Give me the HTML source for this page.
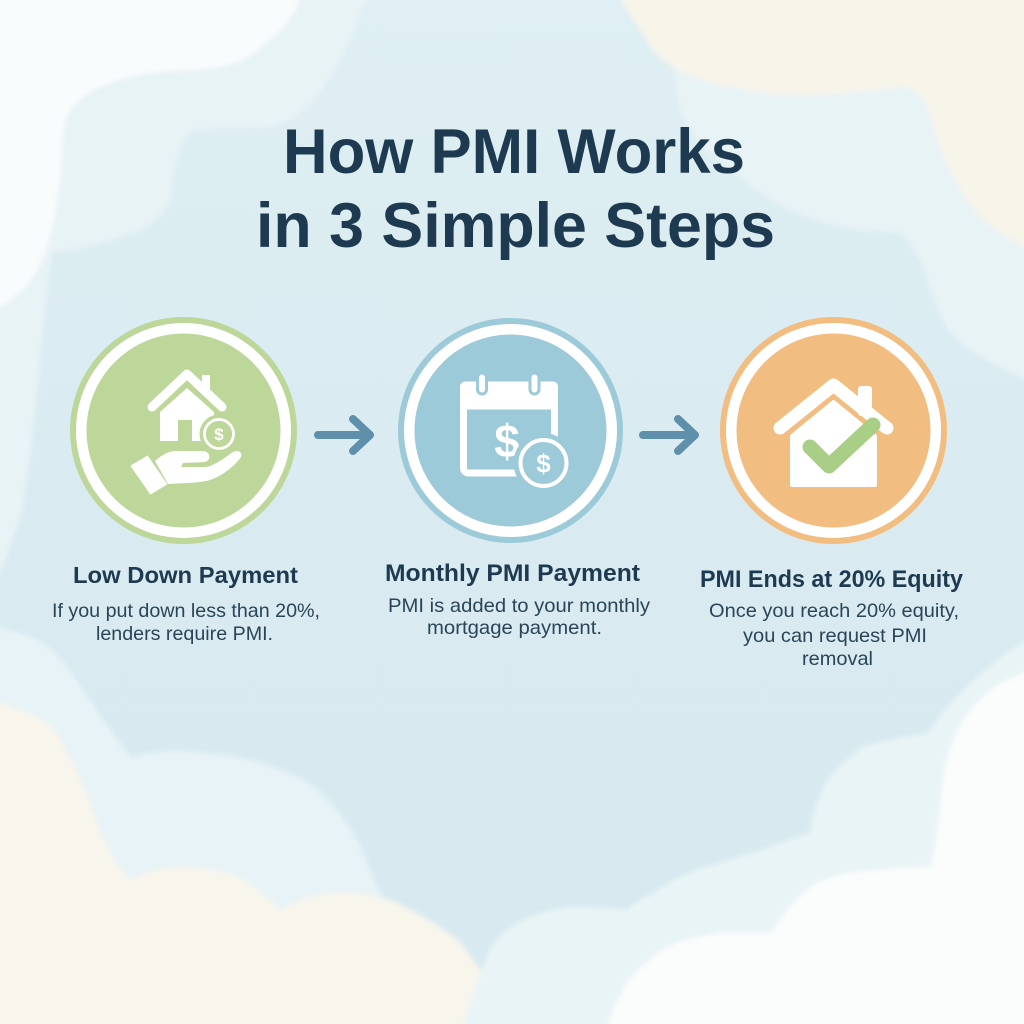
<!DOCTYPE html>
<html>
<head>
<meta charset="utf-8">
<style>
  html, body { margin:0; padding:0; width:1024px; height:1024px; overflow:hidden; background:#d9ebf1; }
  svg { display:block; }
  .t { font-family: "Liberation Sans", Arial, sans-serif; }
</style>
</head>
<body>
<svg width="1024" height="1024" viewBox="0 0 1024 1024" xmlns="http://www.w3.org/2000/svg">
  <defs>
    <linearGradient id="bg" x1="0" y1="0" x2="0" y2="1">
      <stop offset="0" stop-color="#dfeff3"/>
      <stop offset="0.5" stop-color="#d9ebf1"/>
      <stop offset="1" stop-color="#d8eaf0"/>
    </linearGradient>
    <filter id="soft" x="-10%" y="-10%" width="120%" height="120%">
      <feGaussianBlur stdDeviation="2.5"/>
    </filter>
  </defs>

  <!-- background -->
  <rect x="0" y="0" width="1024" height="1024" fill="url(#bg)"/>

  <g filter="url(#soft)">
    <!-- top-left pale layer -->
    <path fill="#e8f3f6" d="M-10,-10 L366,-10 L366,0 C350,40 330,90 301,113 C285,125 265,128 255,127 L190,130 C175,150 172,185 170,200 C160,220 145,230 131,233 C100,245 70,250 52,253 C40,330 35,450 20,520 L-10,600 Z"/>
    <!-- top-left white -->
    <path fill="#f9fcfc" d="M-10,-10 L300,-10 L300,0 C290,20 280,35 268,40 C250,60 230,68 190,70 C110,72 75,95 65,120 C60,150 62,170 59,187 C55,220 48,250 39,267 C30,285 15,300 -10,312 Z"/>

    <!-- right pale layer -->
    <path fill="#e8f3f6" d="M655,-10 L660,0 C668,30 672,50 673,67 C676,85 678,100 680,110 C690,130 700,148 719,160 C745,180 765,198 784,207 C815,222 845,228 869,230 L902,233 C915,250 925,265 928,283 C935,300 940,315 948,330 C960,345 990,365 1034,382 L1034,-10 Z"/>
    <!-- top-right cream -->
    <path fill="#f7f4ea" d="M621,-10 L621,0 C630,15 640,30 647,40 C655,55 665,62 673,67 C700,80 715,85 732,87 C760,93 770,95 784,95 C810,96 830,95 850,93 C880,90 895,88 908,87 C920,95 925,100 928,110 C935,130 940,150 948,167 C960,190 970,205 980,217 C995,230 1010,240 1034,252 L1034,-10 Z"/>

    <!-- bottom-left pale -->
    <path fill="#e7f3f6" d="M-10,625 C15,632 30,636 39,640 C60,655 70,670 78,683 C100,715 120,745 131,757 C150,752 175,750 196,752 C225,755 245,758 261,763 C290,772 305,780 314,787 C335,805 345,820 353,833 C365,855 372,875 379,890 C395,920 420,960 440,1034 L-10,1034 Z"/>
    <!-- bottom-left cream -->
    <path fill="#f8f5ec" d="M-10,700 C25,710 42,718 52,727 C75,760 90,800 98,827 C110,855 120,870 131,880 C150,870 175,865 196,867 C220,870 238,875 248,883 C262,893 273,902 281,910 C300,898 320,893 340,893 C365,893 390,898 405,907 C430,920 445,930 458,940 C475,960 490,985 497,1000 L512,1034 L-10,1034 Z"/>

    <!-- bottom-right pale -->
    <path fill="#e9f4f6" d="M1034,636 C990,660 950,700 928,733 C900,738 880,742 863,747 C845,760 830,775 824,787 C815,805 812,820 810,833 C795,838 782,842 771,847 C745,855 725,862 706,867 C680,875 665,885 654,893 C640,900 632,905 627,910 C605,908 585,907 569,907 C550,910 535,915 523,920 C505,930 495,940 490,950 C480,975 470,1000 460,1034 L1034,1034 Z"/>
    <!-- bottom-right white -->
    <path fill="#fbfdfd" d="M1034,670 C1000,680 990,690 980,700 C965,715 958,728 954,740 C945,760 942,780 941,800 C938,830 934,850 931,867 C900,868 875,870 850,873 C825,878 812,885 804,893 C790,905 780,920 771,933 C750,933 735,933 719,933 C695,937 680,942 667,947 C648,960 635,972 627,983 C618,998 612,1012 606,1034 L1034,1034 Z"/>
  </g>

  <!-- Title -->
  <g class="t" fill="#1d3a50" font-weight="700" font-size="63" text-anchor="middle">
    <text x="514" y="173" textLength="462" lengthAdjust="spacingAndGlyphs">How PMI Works</text>
    <text x="515.5" y="247" textLength="519" lengthAdjust="spacingAndGlyphs">in 3 Simple Steps</text>
  </g>

  <!-- Circle 1 (green) -->
  <g>
    <circle cx="183.5" cy="430.5" r="113.5" fill="#bdd79a"/>
    <circle cx="183.5" cy="430.5" r="107.5" fill="#ffffff"/>
    <circle cx="183.5" cy="430.5" r="97" fill="#bdd79a"/>
    <!-- house -->
    <rect x="202" y="375" width="8" height="20" fill="#ffffff"/>
    <polyline points="152,407 187,374 222,407" fill="none" stroke="#ffffff" stroke-width="9" stroke-linecap="round" stroke-linejoin="round"/>
    <polygon points="160,412 187,388 214,412 214,441 160,441" fill="#ffffff"/>
    <rect x="178" y="420" width="14" height="21" fill="#bdd79a"/>
    <!-- coin -->
    <circle cx="219" cy="434" r="19.5" fill="#bdd79a"/>
    <circle cx="219" cy="434" r="14.5" fill="none" stroke="#ffffff" stroke-width="2.8"/>
    <text class="t" x="219" y="440" font-size="17" font-weight="700" fill="#ffffff" text-anchor="middle">$</text>
    <!-- hand -->
    <polygon points="131.7,466 147.3,456.7 166,484 150.7,493.3" fill="#ffffff" stroke="#ffffff" stroke-width="2" stroke-linejoin="round"/>
    <path d="M155,461 C162,455 168,451 176,451 L203,451 C210,451 212,460 205,462 L183,463 L181,467 L204,467 C212,467 222,460 230,454 C236,449 243,451 241,457 C235,466 222,476 210,480 C200,483 185,483 168,484 Z" fill="#ffffff"/>
  </g>

  <!-- Arrow 1 -->
  <path d="M318,435 L369,435 M353,419 L370,435 L353,451" fill="none" stroke="#5e8fab" stroke-width="8" stroke-linecap="round" stroke-linejoin="round"/>

  <!-- Circle 2 (blue) -->
  <g>
    <circle cx="510.5" cy="430.5" r="112.5" fill="#9ccad8"/>
    <circle cx="510.5" cy="430.5" r="106.5" fill="#ffffff"/>
    <circle cx="510.5" cy="430.5" r="96" fill="#9ccad8"/>
    <!-- calendar -->
    <rect x="463.5" y="385" width="91" height="88" rx="5" fill="none" stroke="#ffffff" stroke-width="7"/>
    <rect x="460" y="381.5" width="98" height="28" rx="5" fill="#ffffff"/>
    <rect x="477.5" y="373" width="9" height="21" rx="4.5" fill="#ffffff" stroke="#9ccad8" stroke-width="3"/>
    <rect x="530" y="373" width="9" height="21" rx="4.5" fill="#ffffff" stroke="#9ccad8" stroke-width="3"/>
    <text class="t" x="507" y="457" font-size="46" font-weight="700" fill="#ffffff" text-anchor="middle">$</text>
    <!-- coin -->
    <circle cx="543.5" cy="463" r="30" fill="#9ccad8"/>
    <circle cx="543.5" cy="463" r="23" fill="none" stroke="#ffffff" stroke-width="4"/>
    <text class="t" x="543.5" y="472.5" font-size="26" font-weight="700" fill="#ffffff" text-anchor="middle">$</text>
  </g>

  <!-- Arrow 2 -->
  <path d="M643,435 L694,435 M678,419 L695,435 L678,451" fill="none" stroke="#5e8fab" stroke-width="8" stroke-linecap="round" stroke-linejoin="round"/>

  <!-- Circle 3 (orange) -->
  <g>
    <circle cx="833.5" cy="430.5" r="113.5" fill="#f2bd80"/>
    <circle cx="833.5" cy="430.5" r="107.5" fill="#ffffff"/>
    <circle cx="833.5" cy="430.5" r="97" fill="#f2bd80"/>
    <!-- house -->
    <rect x="858" y="386" width="14" height="30" rx="3" fill="#ffffff"/>
    <polyline points="780,428 833.5,385 887,428" fill="none" stroke="#ffffff" stroke-width="13" stroke-linecap="round" stroke-linejoin="round"/>
    <polygon points="792,436 833.5,402 875,436 875,485 792,485" fill="#ffffff" stroke="#ffffff" stroke-width="4" stroke-linejoin="round"/>
    <polyline points="810,447 829,466 873,425" fill="none" stroke="#a9cf86" stroke-width="15" stroke-linecap="round" stroke-linejoin="round"/>
  </g>

  <!-- Step labels -->
  <g class="t" fill="#1d3a50" font-weight="700" text-anchor="middle">
    <text x="185.5" y="583" font-size="23" textLength="225" lengthAdjust="spacingAndGlyphs">Low Down Payment</text>
    <text x="512.5" y="581" font-size="24" textLength="255" lengthAdjust="spacingAndGlyphs">Monthly PMI Payment</text>
    <text x="831.5" y="587" font-size="24" textLength="263" lengthAdjust="spacingAndGlyphs">PMI Ends at 20% Equity</text>
  </g>

  <g class="t" fill="#2a4458" font-size="19.5" text-anchor="middle">
    <text x="186" y="617" textLength="268" lengthAdjust="spacingAndGlyphs">If you put down less than 20%,</text>
    <text x="184.5" y="640" textLength="177" lengthAdjust="spacingAndGlyphs">lenders require PMI.</text>

    <text x="519" y="612" textLength="262" lengthAdjust="spacingAndGlyphs">PMI is added to your monthly</text>
    <text x="514.5" y="634" textLength="175" lengthAdjust="spacingAndGlyphs">mortgage payment.</text>

    <text x="834" y="617" textLength="250" lengthAdjust="spacingAndGlyphs">Once you reach 20% equity,</text>
    <text x="835" y="642" textLength="184" lengthAdjust="spacingAndGlyphs">you can request PMI</text>
    <text x="837.5" y="665" textLength="71" lengthAdjust="spacingAndGlyphs">removal</text>
  </g>
</svg>
</body>
</html>
